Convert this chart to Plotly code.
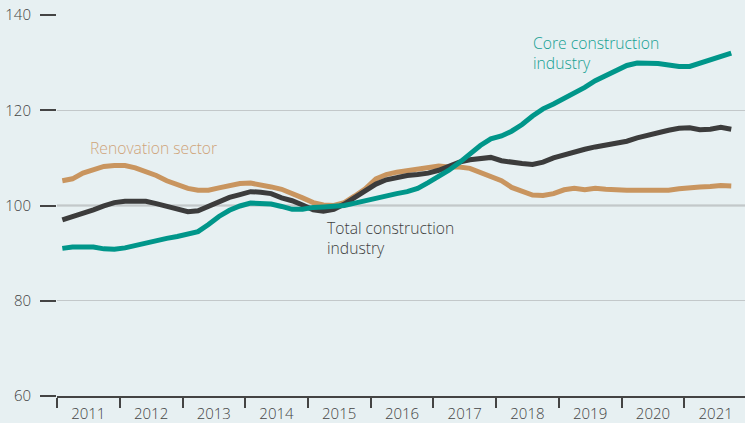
import pandas as pd
import plotly.graph_objects as go

# bi-monthly readings, Feb 2011 .. Oct 2021
dates = pd.date_range("2011-02-01", periods=65, freq="2MS")

renovation = [105.2, 105.6, 106.8, 107.6, 108.2, 108.4,
              108.4, 107.9, 107.1, 106.3, 105.2, 104.4,
              103.6, 103.2, 103.2, 103.7, 104.1, 104.6,
              104.7, 104.4, 103.9, 103.4, 102.6, 101.6,
              100.6, 100.1, 100.0, 100.6, 102.0, 103.5,
              105.6, 106.5, 107.0, 107.3, 107.5, 108.0,
              108.3, 108.1, 108.1, 107.8, 107.0, 106.0,
              105.2, 103.8, 102.9, 102.2, 102.1, 102.5,
              103.3, 103.6, 103.3, 103.6, 103.4, 103.2,
              103.2, 103.2, 103.2, 103.2, 103.2, 103.5,
              103.8, 103.9, 104.0, 104.2, 104.1]

total = [97.0, 97.6, 98.3, 99.1, 99.9, 100.6,
         100.9, 100.9, 100.9, 100.4, 99.9, 99.3,
         98.7, 98.9, 99.8, 100.7, 101.7, 102.3,
         102.9, 102.8, 102.5, 101.6, 101.0, 100.1,
         99.1, 98.8, 99.2, 100.3, 101.6, 103.2,
         104.5, 105.4, 105.9, 106.3, 106.5, 106.8,
         107.4, 108.3, 109.1, 109.6, 109.8, 110.1,
         109.4, 109.0, 108.8, 108.6, 109.1, 110.0,
         110.7, 111.2, 111.8, 112.3, 112.7, 113.0,
         113.5, 114.2, 114.8, 115.4, 115.8, 116.2,
         116.3, 115.9, 116.0, 116.4, 116.0]

core = [91.0, 91.3, 91.3, 91.3, 90.9, 90.8,
        91.1, 91.6, 92.3, 92.7, 93.1, 93.5,
        93.9, 94.5, 96.0, 97.7, 99.0, 99.9,
        100.5, 100.5, 100.3, 99.8, 99.2, 99.2,
        99.6, 99.7, 99.9, 100.0, 100.5, 101.0,
        101.7, 102.1, 102.5, 102.9, 103.6, 104.8,
        106.0, 107.4, 109.0, 110.8, 112.6, 114.0,
        114.6, 115.6, 117.0, 118.8, 120.3, 121.3,
        122.5, 123.5, 124.8, 126.2, 127.3, 128.3,
        129.4, 129.9, 129.9, 129.8, 129.5, 129.2,
        129.2, 129.9, 130.4, 131.2, 132.0]

years = [str(y) for y in range(2011, 2022)]
yticks = [60, 80, 100, 120, 140]

bg = "#e7f0f2"
tan = "#c9955f"
dark = "#3c3c3c"
teal = "#00968a"
txt = "#444444"

fig = go.Figure()
fig.add_trace(go.Scatter(x=dates, y=renovation, mode="lines", line=dict(color=tan, width=5)))
fig.add_trace(go.Scatter(x=dates, y=total, mode="lines", line=dict(color=dark, width=5)))
fig.add_trace(go.Scatter(x=dates, y=core, mode="lines", line=dict(color=teal, width=5)))

fig.add_hline(y=100, line=dict(color="#8a8c8d", width=1.5), layer="below")

# labels mid-year, separator ticks at year start
fig.update_xaxes(range=["2011-01-01", "2021-12-20"], automargin=False,
                 tickvals=[y + "-07-02" for y in years], ticktext=years, ticks="",
                 ticklabelstandoff=3,
                 minor=dict(tickvals=[y + "-01-01" for y in years], ticks="outside",
                            ticklen=10, tickcolor=txt, tickwidth=1.5, showgrid=False),
                 showgrid=False, showline=True, linecolor=txt, linewidth=1.5,
                 tickfont=dict(size=15, color=txt, weight=300))
fig.update_yaxes(range=[60, 140], tickvals=yticks, ticks="outside", ticklen=16, automargin=False,
                 tickcolor=txt, tickwidth=1.5, showgrid=True, gridcolor="#c3c8ca",
                 gridwidth=1, zeroline=False, showline=False, ticklabelstandoff=6,
                 tickfont=dict(size=15, color=txt, weight=300))

fig.add_annotation(x=0.045, y=0.651, xref="paper", yref="paper", text="Renovation sector",
                   showarrow=False, xanchor="left", yanchor="middle", align="left",
                   font=dict(size=15.7, color="#cfa47a", weight=300))
fig.add_annotation(x=0.3895, y=0.416, xref="paper", yref="paper", text="Total construction<br>industry",
                   showarrow=False, xanchor="left", yanchor="middle", align="left",
                   font=dict(size=15.7, color="#404040", weight=300))
fig.add_annotation(x=0.689, y=0.900, xref="paper", yref="paper", text="Core construction<br>industry",
                   showarrow=False, xanchor="left", yanchor="middle", align="left",
                   font=dict(size=15.7, color="#16a093", weight=300))

fig.update_layout(width=745, height=423, margin=dict(l=57, r=0, t=15, b=27),
                  paper_bgcolor=bg, plot_bgcolor=bg, showlegend=False,
                  font=dict(family="Open Sans, sans-serif"))
fig.write_html("out.html", config={"displayModeBar": False},
               post_script="document.body.style.margin='0';")
